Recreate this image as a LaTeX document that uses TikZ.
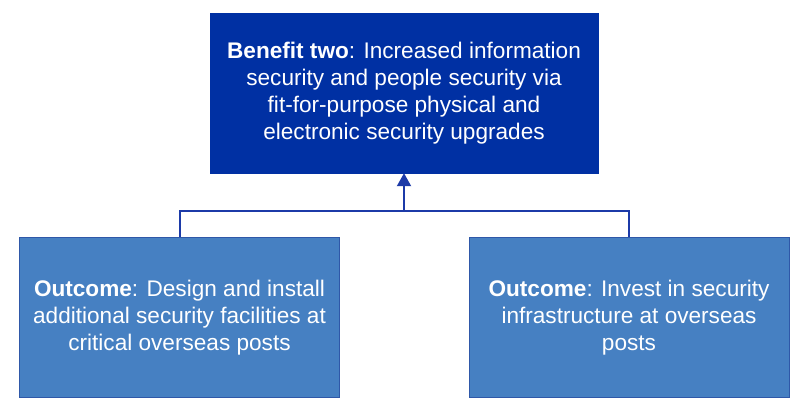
\documentclass[tikz,border=0pt]{standalone}
\usepackage{fontspec}
\setmainfont{Liberation Sans}
\usepackage{tikz}
\usetikzlibrary{positioning}
\usetikzlibrary{arrows.meta}

\definecolor{benefitblue}{RGB}{0,48,163}
\definecolor{outcomeblue}{RGB}{70,128,194}
\definecolor{outcomeedge}{RGB}{47,88,168}
\definecolor{linkblue}{RGB}{28,58,168}

\begin{document}
\begin{tikzpicture}[x=1pt, y=1pt,
    every node/.style={align=center, inner sep=0pt, font=\fontsize{22.6}{27}\selectfont},
    benefit/.style={fill=benefitblue, draw=benefitblue, text=white, minimum width=388pt, minimum height=160pt},
    outcome/.style={fill=outcomeblue, draw=outcomeedge, line width=1pt, text=white, minimum width=320pt, minimum height=160pt},
    link/.style={draw=linkblue, line width=2pt}]
              \useasboundingbox (0,0) rectangle (810,413);
              % Boxes
              \node[benefit] (ben) at (404,320) {\textbf{Benefit two}: Increased information\\security and people security via\\fit-for-purpose physical and\\electronic security upgrades};
              \node[outcome] (outa) at (179.5,95.5) {\textbf{Outcome}: Design and install\\additional security facilities at\\critical overseas posts};
              \node[outcome] (outb) at (629,95.5) {\textbf{Outcome}: Invest in security\\infrastructure at overseas\\posts};
              \coordinate (join) at (404,202);

              % Links
              \draw[link] (outa.north) |- (join) -| (outb.north);
              \draw[link, -{Triangle[width=14pt,length=13pt]}] (join) -- (ben.south);
            \end{tikzpicture}
\end{document}
